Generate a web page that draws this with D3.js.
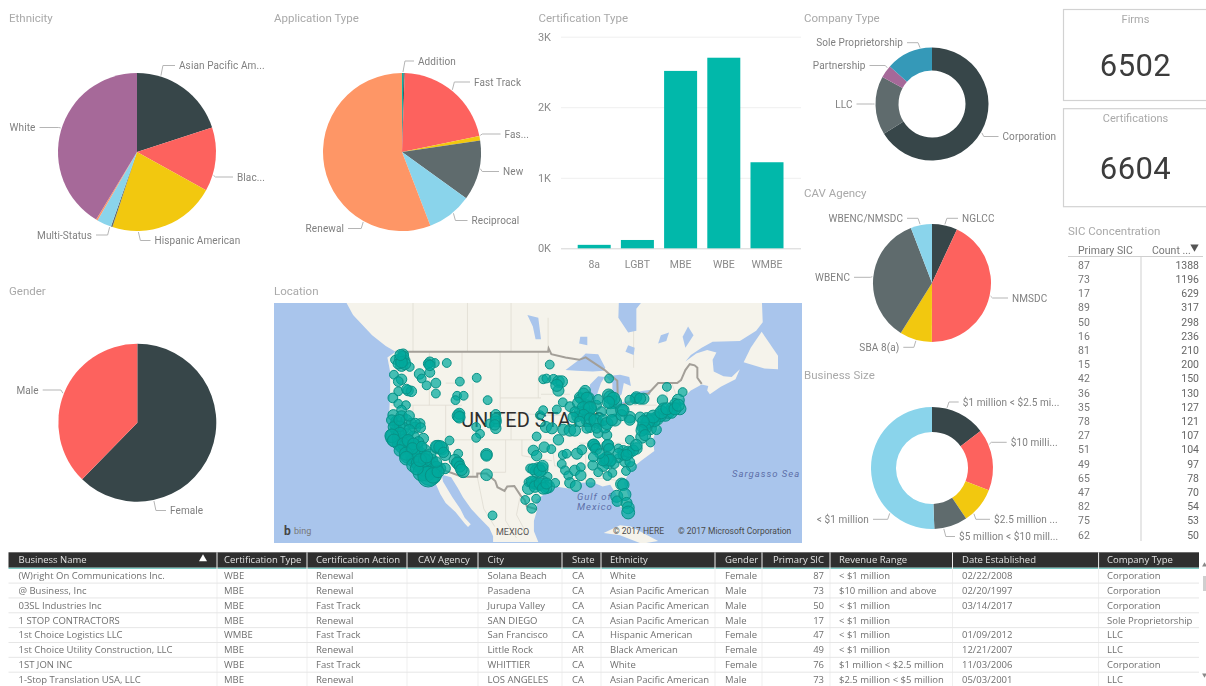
<!DOCTYPE html>
<html>
<head>
<meta charset="utf-8">
<script src="https://d3js.org/d3.v7.min.js"></script>
<style>
body { margin: 0; background: #fff; overflow: hidden; }
svg { filter: blur(0.35px); }
text { font-family: Roboto, sans-serif; }
</style>
</head>
<body>
<div id="dash"></div>
<script>
// ---- data ----
var ethnicityNames = ["Asian Pacific American", "Black American", "Hispanic American", "Native American", "Multi-Status", "Other", "White"];
var ethnicityValues = [1300, 850, 1430, 20, 195, 20, 2690];

var applicationNames = ["Addition", "Expedited", "Fast Track", "Fast Track Addition", "New", "Reciprocal", "Renewal"];
var applicationValues = [20, 16, 1400, 60, 811, 609, 3688];

var certNames = ["8a", "LGBT", "MBE", "WBE", "WMBE"];
var certValues = [49, 118, 2515, 2702, 1220];
var certTicks = [0, 1000, 2000, 3000];

var companyNames = ["Corporation", "LLC", "Partnership", "Sole Proprietorship"];
var companyValues = [4304, 1089, 237, 872];

var agencyNames = ["NGLCC", "NMSDC", "SBA 8(a)", "WBENC", "WBENC/NMSDC"];
var agencyValues = [118, 733, 150, 600, 99];

var sizeNames = ["$1 million < $2.5 million", "$10 million and above", "$2.5 million < $5 million", "$5 million < $10 million", "< $1 million"];
var sizeValues = [950, 1062, 625, 574, 3291];

var genderNames = ["Female", "Male"];
var genderValues = [4051, 2451];

var firmsCount = 6502;
var certificationsCount = 6604;

var sicCodes = [87, 73, 17, 89, 50, 16, 81, 15, 42, 36, 35, 78, 27, 51, 49, 65, 47, 82, 75, 62];
var sicCounts = [1388, 1196, 629, 317, 298, 236, 210, 200, 150, 130, 127, 121, 107, 104, 97, 78, 70, 54, 53, 50];

var tableColumns = ["Business Name", "Certification Type", "Certification Action", "CAV Agency", "City", "State", "Ethnicity", "Gender", "Primary SIC", "Revenue Range", "Date Established", "Company Type"];
var tableRows = [
  ["(W)right On Communications Inc.", "WBE", "Renewal", "", "Solana Beach", "CA", "White", "Female", "87", "< $1 million", "02/22/2008", "Corporation"],
  ["@ Business, Inc", "MBE", "Renewal", "", "Pasadena", "CA", "Asian Pacific American", "Male", "73", "$10 million and above", "02/20/1997", "Corporation"],
  ["03SL Industries Inc", "MBE", "Fast Track", "", "Jurupa Valley", "CA", "Asian Pacific American", "Male", "50", "< $1 million", "03/14/2017", "Corporation"],
  ["1 STOP CONTRACTORS", "MBE", "Renewal", "", "SAN DIEGO", "CA", "Asian Pacific American", "Male", "17", "< $1 million", "", "Sole Proprietorship"],
  ["1st Choice Logistics LLC", "WMBE", "Fast Track", "", "San Francisco", "CA", "Hispanic American", "Female", "47", "< $1 million", "01/09/2012", "LLC"],
  ["1st Choice Utility Construction, LLC", "MBE", "Renewal", "", "Little Rock", "AR", "Black American", "Female", "49", "< $1 million", "12/21/2007", "LLC"],
  ["1ST JON INC", "WBE", "Fast Track", "", "WHITTIER", "CA", "White", "Female", "76", "$1 million < $2.5 million", "11/03/2006", "Corporation"],
  ["1-Stop Translation USA, LLC", "MBE", "Renewal", "", "LOS ANGELES", "CA", "Asian Pacific American", "Male", "73", "$2.5 million < $5 million", "05/03/2001", "LLC"]
];

// firm locations: lon, lat, firms
var locations = [
  [-121.8,48.7,3],[-122.4,48.1,4],[-121.5,47.9,3],[-122.1,47.3,6],[-120.6,47.1,1],[-123.3,48,1],[-122.7,47.5,3],[-121.8,48.4,4],
  [-116.9,47.7,3],[-116,47.6,1],[-113.8,47.6,1],[-117.2,47.5,2],[-123.5,46.1,1],[-118.8,46.2,3],[-122.1,45.5,3],[-122.7,45.2,2],
  [-116.9,46.4,2],[-118.4,45.6,1],[-117.5,44.7,1],[-115.8,45,2],[-115.8,43.6,1],[-111.4,45.2,1],[-108.3,45.7,1],[-120.9,44,3],
  [-120.3,43.9,3],[-122.7,43.9,1],[-123.7,43,2],[-111.9,43.3,1],[-110.7,43.3,1],[-112.2,42.7,1],[-106.3,42.7,1],
  [-122.7,42.2,1],[-121.3,42,1],[-122.1,41.3,2],[-123.6,40.6,4],[-123,39.7,5],[-122.1,40.4,5],[-121.2,39.9,4],[-120.3,39.4,3],
  [-118.7,39.4,2],[-119.6,38.8,4],[-121.8,38.7,6],[-123,38.4,6],[-123.3,37.4,30],[-122.4,37.2,16],[-121.2,37.7,8],[-119.9,37.4,6],
  [-118.1,37.2,3],[-122.7,36.4,6],[-121.5,35.9,6],[-120.6,35.4,6],[-119.3,35.9,5],[-118.7,34.9,8],[-120.2,34.4,6],[-120.9,34.7,20],
  [-119.3,33.9,8],[-118.1,34.2,6],[-117.2,33.4,10],[-118.7,33.1,12],[-117.8,32.6,20],[-116.6,32.8,10],[-116.9,31.8,60],[-116,32.1,6],
  [-115,32.6,4],[-114.1,32.6,3],[-117.5,32.1,30],[-116.6,33.9,6],[-123.3,39.2,3],[-122.4,39,3],[-121.5,36.9,8],[-122.1,35.9,5],
  [-120.6,36.6,6],[-119.6,35.2,6],[-119.9,33.9,10],[-119,34.7,8],[-117.8,35.4,5],[-116.9,34.7,6],[-118.1,32.6,14],[-117.2,32.8,18],
  [-116.3,33.3,6],[-115.7,32.8,5],
  [-123.9,39.9,3],[-123.6,38.9,3],[-122.5,39.9,4],[-120.7,40.5,3],[-119.6,39.4,3],[-118.6,38.8,2],[-120.7,38.4,5],[-122.4,37.9,8],
  [-123.9,37.6,10],[-123.5,36.9,8],[-121.8,36.4,6],[-120.9,36.9,6],[-119,36.7,3],[-119.9,36.4,5],[-122.4,35.4,5],[-121.3,34.9,8],
  [-120.1,35.7,5],[-118.4,36,3],[-121.2,34.2,10],[-119.9,33.1,10],[-119,33.4,12],[-117.8,33.9,8],[-118.4,32,24],[-117.2,31.3,40],
  [-116.3,31.5,16],[-115.4,32.1,6],[-119.3,32.6,8],[-118.7,33.9,8],[-117.5,34.4,6],[-115.7,33.6,3],
  [-115.4,35.9,10],[-114.7,35.7,8],[-114.1,34.7,4],[-113.3,36.9,1],[-111.7,34.9,1],[-112.3,33.9,5],[-111.7,33.4,6],[-110.8,32.1,6],
  [-106.5,34.8,5],[-106.5,31.6,5],[-115.7,36,6],[-111.7,40.5,6],[-111.5,40.8,4],[-108.4,38.9,1],[-107.7,37.9,1],[-108.4,37.3,1],
  [-104.8,40.7,2],[-104.8,39.7,4],[-104.8,38.7,3],[-105.9,39.4,1],
  [-97.3,37.5,1],[-97.9,35.4,3],[-97.3,34.6,3],[-95.9,35.9,3],[-94.6,35.6,1],[-98.5,32.6,1],[-97,32.5,8],[-96.4,32.5,8],[-97.4,32.2,6],
  [-95.3,31.3,1],[-98.8,30.4,1],[-96.7,29.9,3],[-97.9,30.3,6],[-98.8,29.4,6],[-97.3,30.2,6],[-96.1,30.5,3],[-95.2,29.7,8],[-95.6,29.5,6],
  [-93.9,30.3,1],[-99.4,27.5,1],[-97.4,27.7,1],[-98.2,26.1,2],[-105.4,24.9,1],
  [-95.6,38.9,4],[-94.5,38.7,4],[-92.4,38.5,4],[-91.2,38.4,5],[-90.3,38.4,5],[-93.3,37,3],[-92.5,34.7,1],[-91.8,34.9,1],[-89.9,34.9,4],
  [-89,35.5,2],[-92.7,33.3,1],[-92.1,32.3,1],[-91.5,31.5,1],[-90.3,32.3,3],[-89.2,32.8,1],[-89.2,31.5,3],[-91.2,30.3,3],[-90.1,29.8,4],[-87.4,30.3,1],
  [-94.9,47.4,1],[-96.1,45.5,1],[-95.5,45.6,1],[-94.2,45.5,2],[-93.3,45.2,5],[-92.7,45.2,5],[-93.3,44,4],[-93.6,44.7,6],
  [-96.7,40.6,1],[-96.1,41.3,1],[-93.6,41.4,1],[-92.5,42.4,1],[-91.2,41.8,2],[-89.4,43.1,3],[-88.4,44,3],[-89.2,42.9,3],[-87.8,43,5],
  [-88.1,41.8,10],[-87.7,41.5,10],[-89.4,41.1,3],[-89.9,40.4,3],[-87.8,40.8,5],[-86.3,42,2],[-86,42.8,2],[-88.1,39.9,5],[-86.3,39.7,8],
  [-85.4,41.1,2],[-87.5,38.8,2],[-86,38,2],[-84.4,37.7,2],[-84.8,38.9,6],[-82.9,39.9,6],[-84,45.6,1],[-84.1,43.4,6],[-83.7,42.4,8],
  [-82.9,42.4,8],[-83.5,41.1,4],[-81.7,41.3,6],[-80.2,40.3,5],[-79.2,42.9,3],[-77.7,42.9,4],[-73.4,44.5,1],[-70.5,43.8,1],[-74.2,42.7,3],
  [-71.3,42.7,6],[-71,41.5,6],[-72.5,41.5,6],[-73.7,40.7,10],[-75.3,40.1,10],[-76.2,39.9,8],[-77.1,40.1,6],[-77.7,38.9,8],[-76.5,38.7,8],
  [-75.3,38.5,2],[-78,37.4,6],[-76.4,36.6,1],[-80.2,37,1],[-79,35.7,5],[-80.2,35,3],[-81.4,35.3,4],[-82.3,35.7,1],[-81.1,33.7,3],
  [-79.9,32.9,2],[-80.9,32.2,1],[-83.4,31.9,1],[-84.6,34,10],[-84.2,33.7,12],[-85.1,33,4],[-86.9,36.2,5],[-86.6,36,4],[-84.3,36.1,5],
  [-87,33.1,2],[-86,32,1],[-84.3,31.4,1],[-82.3,34.2,1],[-83,33.3,1],
  [-81.7,30.1,6],[-81.4,30,5],[-82.6,28.1,6],[-82.5,27.3,3],[-81.1,28.4,6],[-80.8,27,4],[-80.5,26.2,6],[-80.5,25.4,8],
  [-74.6,40.6,8],[-75.7,39.8,6],[-73.1,41,6],[-71.9,42.2,3],[-77.1,39.4,6],[-72.5,40.9,3],[-74,41.5,5],[-78.3,40.3,3],
  [-88.7,43.6,4],[-88.1,43,5],[-89.7,42.3,4],[-88.7,41.6,8],[-87.5,41.6,8],[-88.7,40.6,5],[-87.5,40.1,5],[-86.6,39.9,6],[-90.3,41.1,2],
  [-90.6,40.3,3],[-89.4,39.7,3],[-85.1,39.9,4],[-84.4,39.4,6],[-83.5,39.9,4],[-83.8,43.1,8],[-83.2,42.9,8],[-84.1,42.4,6],[-86.3,38.7,2],[-88.1,38.7,2],
  [-86.8,36.3,4],[-86.4,35.6,4],[-84.2,36.2,5],[-84,35.6,4],[-81.4,34.7,3],[-80.5,35.2,4],[-79.6,35.4,4],[-79,36.2,5],[-84.4,34.2,8],[-83.8,33.9,6],
  [-85.1,33.9,5],[-85.7,34.9,2],[-86.9,34.4,2],[-80.2,33.6,2],[-82.3,34.9,3],[-80.8,34.7,4],
  [-76.8,39.7,8],[-77.4,38.7,6],[-75.9,40.4,8],[-74.4,41,8],[-73.4,41.5,6],[-71.9,41.5,6],[-71.3,42,6],[-77.7,39.7,5],[-78,38.4,5],[-77.4,37.7,4],
  [-79,43.1,4],[-78.3,42.9,4],[-80.2,42.7,2],[-81.7,40.6,4],[-80.2,39.9,3],[-81.4,41.3,5],
  [-98.2,30.5,4],[-97.6,29.7,5],[-96.7,30.2,5],[-96.1,29.4,5],[-95.5,30.2,4],[-97.9,32.5,4],[-96.7,32.2,6],[-96.2,33,4],
  [-121.5,47.5,5],[-122.1,47.7,5],[-122.3,48.6,4],[-116.9,47.3,3],[-121.2,44.2,2],
  [-111.9,33.5,5],[-111.4,32.9,4],[-111.1,32.4,5],[-115,35.9,8],[-114.4,35.1,3],[-106.5,34.6,4],[-104.8,40.1,3],[-105,39.2,3],[-111.5,40.3,5]
];

// rough basemap outlines, lon/lat
var landCoast = [[-133,55.5],[-131,53.3],[-127.5,51],[-125,49.7],[-123.2,49],[-124.7,48.3],[-124.2,46.5],[-124.2,43.5],[-124.4,40.4],[-122.6,37.8],[-121.8,36.4],[-120.6,34.6],[-118.5,34],[-117.2,32.6],[-116,30.5],[-115,28.5],[-114,27],[-112.2,25.5],[-110.5,23.5],[-109.9,22.9],[-109.4,23.4],[-110.5,24.5],[-111.3,26],[-112.8,28],[-114.5,30.5],[-114.7,31.6],[-113,31.2],[-111.8,29.5],[-110.8,27.9],[-109.3,26],[-107.8,24.5],[-106,22.8],[-105.3,21.3],[-105.3,20.3],[-97,20.3],[-97.8,22.2],[-97.8,24],[-97.2,25.9],[-97.4,27.5],[-95,29],[-93.8,29.7],[-91.5,29.4],[-89.4,29],[-89.4,30.3],[-87,30.4],[-85.2,29.7],[-83.8,30],[-82.7,28.5],[-82,26.5],[-81,25.2],[-80.4,25.3],[-80,26.8],[-81.3,30.3],[-80,32.5],[-78,33.9],[-75.7,35.3],[-76,37],[-75.5,38],[-74.2,39.7],[-74,40.6],[-72,41],[-70,41.6],[-70.8,42.8],[-69,44],[-67,44.8],[-65.8,44.6],[-66,44],[-65.5,43.5],[-63.5,44.5],[-60.8,45.5],[-60,46.8],[-61.5,45.8],[-63,45.9],[-64.8,46.5],[-65,48],[-64.3,48.9],[-66,49.2],[-68,48.8],[-70,47.8],[-69,48.6],[-67,49.5],[-65,50.2],[-60,50.3],[-57,51.5],[-55.8,52.5],[-56,55.5]];
var newfoundland = [[-59.3,47.7],[-58,49.5],[-56,51.4],[-53,48.5],[-53,46.8],[-55.5,46.9]];
var cuba = [[-85,21.9],[-82,23.2],[-80,23],[-75,20.5],[-78,20],[-82,21.5]];
var lakes = [
  [[-92,46.7],[-89.5,48],[-88.3,48.8],[-86,48.7],[-84.7,47],[-85,46.6],[-87,46.5],[-90,46.6]],
  [[-87.8,41.7],[-86.8,41.8],[-86.2,43.5],[-85.5,45],[-84.8,45.8],[-86,45.9],[-87.5,44.8],[-87.9,43]],
  [[-84.7,45.9],[-83.4,45],[-83.4,43.8],[-82.5,43],[-81.7,43.5],[-81.3,45],[-80,44.6],[-80.3,45.8],[-82,46.1]],
  [[-83.4,41.7],[-81.5,41.6],[-79,42.8],[-80.5,42.7],[-83,42.1]],
  [[-79.7,43.3],[-76.5,43.4],[-76.3,44.1],[-78,43.95],[-79.4,43.7]],
  [[-97.5,50.5],[-96.5,50.5],[-97,53],[-99,53.3],[-98,52]],
  [[-84,55.5],[-82.2,55],[-82.3,53],[-80.5,51.3],[-79,51.5],[-79,54],[-77,55.5]],
  [[-89.5,50],[-88,49.8],[-88,50.8],[-89.3,50.8]],
  [[-81,49],[-79.5,48.6],[-79.3,49.5],[-80.5,49.8]],
  [[-75,50],[-73.5,50.3],[-73,51.3],[-74.5,51]],
  [[-70,49.5],[-68.5,51],[-69.5,52],[-70.5,50.8]]
];
var countryBorders = [
  [[-123.2,49],[-95.2,49],[-95.1,49.4],[-94.6,48.7],[-92,48.3],[-89.5,48],[-88.3,48.3],[-84.8,46.7],[-84.3,46.4],[-83.5,45.9],[-82.5,45.3],[-82.4,43],[-83.1,42.2],[-82.7,41.7],[-79,42.8],[-79.1,43.4],[-76.8,43.6],[-75,45],[-71.5,45],[-70.8,45.4],[-70.3,46.2],[-70,46.7],[-69.2,47.45],[-68.3,47.3],[-67.8,47],[-67.8,45.7],[-67,44.9]],
  [[-117.1,32.5],[-114.7,32.7],[-114.8,32.5],[-111,31.3],[-108.2,31.3],[-108.2,31.8],[-106.5,31.8],[-104.9,30.6],[-104.5,29.6],[-103.2,29],[-102.7,29.7],[-101.4,29.8],[-100.3,28.3],[-99.5,27.5],[-99.1,26.4],[-97.2,25.9]]
];
var stateLines = [
  [[-117,49],[-117,42]],[[-111,49],[-111,45],[-114,45]],[[-104,49],[-104,41]],[[-97,49],[-97,43]],[[-124,42],[-111,42]],[[-120,42],[-120,39],[-114.6,35]],
  [[-114,42],[-114,37]],[[-109,45],[-109,31.3]],[[-114,37],[-94.6,37]],[[-102,41],[-102,37]],[[-104,43],[-96.5,43]],[[-104,41],[-95.5,40.6]],[[-103,37],[-103,32],[-106.5,32]],
  [[-100,37],[-100,34.6],[-94.5,33.8]],[[-94.5,36.5],[-94,33]],[[-91.5,40.6],[-95.5,40.6]],[[-91.2,43.5],[-96.5,43.5]],[[-88,42.5],[-90.7,42.5]],[[-87.5,41.7],[-87.5,39],[-88,37.8]],
  [[-84.8,41.7],[-84.8,39.1]],[[-80.5,42],[-80.5,40.6]],[[-80.5,39.7],[-75.7,39.7]],[[-79.7,42],[-75.3,42]],[[-90,35],[-81,35]],[[-89.5,36.5],[-75.9,36.5]],
  [[-88.3,35],[-88.3,30.3]],[[-85.5,35],[-85,31],[-87.5,31]],[[-91.5,33],[-94,33]],[[-91,33],[-91.6,31],[-89.7,31]],[[-85,31],[-81.8,30.6]],[[-73.4,45],[-73.4,41]],[[-72.5,45],[-71.5,43],[-71,42.7]],
  [[-120,55],[-120,49]],[[-110,55],[-110,49]],[[-102,55],[-102,49]],[[-95.2,53],[-95.2,49.4]],[[-79.5,52],[-79.5,47]],
  [[-108.2,31.3],[-107,26],[-105,23]],[[-103,29],[-103,24],[-101,21]],[[-100.3,28.3],[-101,25],[-99,21.5]]
];

// ---- palette ----
var teal = "#01B8AA", dark = "#374649", red = "#FD625E", yellow = "#F2C80F",
    gray = "#5F6B6D", sky = "#8AD4EB", orange = "#FE9666", purple = "#A66999", blue = "#3599B8";

var svg = d3.select("#dash").append("svg")
    .attr("width", 1206)
    .attr("height", 686);

function title(txt, x, y) {
  svg.append("text").attr("x", x).attr("y", y).attr("dy", "0.35em")
    .attr("font-size", 11.5).attr("fill", "#a9a9a9").text(txt);
}

// pie or donut with power bi style callouts
function drawPie(opt) {
  var g = svg.append("g").attr("transform", "translate(" + opt.cx + "," + opt.cy + ")");
  var pie = d3.pie().sort(null).value(function(d) { return d; });
  var arc = d3.arc().innerRadius(opt.inner || 0).outerRadius(opt.r);

  g.selectAll("path.slice")
    .data(pie(opt.values))
    .enter()
    .append("path")
    .attr("class", "slice")
    .attr("d", arc)
    .attr("fill", function(d, i) { return opt.colors[i]; });

  opt.callouts.forEach(function(c) {
    var a = c.angle * Math.PI / 180;
    var sx = opt.cx + Math.sin(a) * (opt.r + 1);
    var sy = opt.cy - Math.cos(a) * (opt.r + 1);
    var side = c.anchor == "end" ? -1 : 1;
    var pts = [[sx, sy], [sx + side * 2, c.y], [c.x - side * 4, c.y]];
    svg.append("path")
      .attr("d", d3.line()(pts))
      .attr("fill", "none")
      .attr("stroke", "#b5b5b5")
      .attr("stroke-width", 1);
    svg.append("text")
      .attr("x", c.x).attr("y", c.y).attr("dy", "0.35em")
      .attr("text-anchor", c.anchor || "start")
      .attr("font-size", 10)
      .attr("letter-spacing", 0.1)
      .attr("fill", "#808080")
      .text(c.label);
  });
}

title("Ethnicity", 9, 18);
drawPie({
  cx: 137, cy: 152, r: 79,
  values: ethnicityValues,
  colors: [dark, red, yellow, gray, sky, orange, purple],
  callouts: [
    {label: "Asian Pacific Am...", angle: 17.4, x: 179, y: 65.5},
    {label: "Blac...", angle: 107, x: 237, y: 177},
    {label: "Hispanic American", angle: 179, x: 154.5, y: 240.5},
    {label: "Multi-Status", angle: 200, x: 92, y: 235, anchor: "end"},
    {label: "White", angle: 287.5, x: 35.5, y: 127.5, anchor: "end"}
  ]
});

title("Application Type", 274, 18);
drawPie({
  cx: 402, cy: 152, r: 79,
  values: applicationValues,
  colors: [teal, dark, red, yellow, gray, sky, orange],
  callouts: [
    {label: "Addition", angle: 0.7, x: 418, y: 61},
    {label: "Fast Track", angle: 39, x: 474, y: 82},
    {label: "Fas...", angle: 78, x: 504.5, y: 134},
    {label: "New", angle: 102, x: 503, y: 171.5},
    {label: "Reciprocal", angle: 140, x: 471.5, y: 220.5},
    {label: "Renewal", angle: 209, x: 344, y: 228.5, anchor: "end"}
  ]
});

title("Gender", 9, 291);
drawPie({
  cx: 137.3, cy: 422.7, r: 79,
  values: genderValues,
  colors: [dark, red],
  callouts: [
    {label: "Female", angle: 168, x: 170, y: 510.5},
    {label: "Male", angle: 291.6, x: 38.7, y: 390, anchor: "end"}
  ]
});

title("Company Type", 804, 18);
drawPie({
  cx: 932, cy: 104, r: 56.5, inner: 33.5,
  values: companyValues,
  colors: [dark, gray, purple, blue],
  callouts: [
    {label: "Corporation", angle: 120, x: 1002.5, y: 136.5},
    {label: "LLC", angle: 270, x: 852.5, y: 104, anchor: "end"},
    {label: "Partnership", angle: 309, x: 865.5, y: 65.5, anchor: "end"},
    {label: "Sole Proprietorship", angle: 348, x: 903, y: 42.7, anchor: "end"}
  ]
});

title("CAV Agency", 804, 193);
drawPie({
  cx: 932, cy: 283, r: 59,
  values: agencyValues,
  colors: [dark, red, yellow, gray, sky],
  callouts: [
    {label: "NGLCC", angle: 12.4, x: 962, y: 218.3},
    {label: "NMSDC", angle: 102.6, x: 1012, y: 298},
    {label: "SBA 8(a)", angle: 195.6, x: 899.3, y: 347.3, anchor: "end"},
    {label: "WBENC", angle: 276, x: 850, y: 277.3, anchor: "end"},
    {label: "WBENC/NMSDC", angle: 348.5, x: 903, y: 218.3, anchor: "end"}
  ]
});

title("Business Size", 804, 375);
drawPie({
  cx: 932, cy: 468, r: 61, inner: 36,
  values: sizeValues,
  colors: [dark, red, yellow, gray, sky],
  callouts: [
    {label: "$1 million < $2.5 mi...", angle: 14, x: 962.7, y: 402},
    {label: "$10 milli...", angle: 67.5, x: 1010.7, y: 442.3},
    {label: "$2.5 million ...", angle: 137.5, x: 994, y: 519.3},
    {label: "$5 million < $10 mill...", angle: 169, x: 959, y: 536.5},
    {label: "< $1 million", angle: 223, x: 869, y: 519.3, anchor: "end"}
  ]
});

// ---- certification bars ----
title("Certification Type", 538.5, 18);

var x = d3.scaleBand()
  .domain(certNames)
  .range([572.6, 788.6])
  .paddingInner(0.236)
  .paddingOuter(0.118);

var y = d3.scaleLinear()
  .domain([0, 3000])
  .range([248.3, 36.7]);

var yAxis = svg.append("g")
  .attr("transform", "translate(561,0)")
  .call(d3.axisLeft(y)
    .tickValues(certTicks)
    .tickSize(-240)
    .tickFormat(function(d) { return (d / 1000) + "K"; }));
yAxis.select(".domain").remove();
yAxis.selectAll("line").attr("stroke", function(d) { return d == 0 ? "#d4d4d4" : "#efefef"; });
yAxis.selectAll("text").attr("x", -10).attr("font-size", 11).attr("fill", "#8a8a8a").style("font-family", "Roboto, sans-serif");

var xAxis = svg.append("g")
  .attr("transform", "translate(0,248.3)")
  .call(d3.axisBottom(x).tickSize(0).tickPadding(12));
xAxis.select(".domain").remove();
xAxis.selectAll("text").attr("font-size", 10.5).attr("fill", "#8a8a8a").style("font-family", "Roboto, sans-serif");

svg.append("g").selectAll("rect")
  .data(certValues)
  .enter()
  .append("rect")
  .attr("x", function(d, i) { return x(certNames[i]); })
  .attr("y", function(d) { return y(d); })
  .attr("width", x.bandwidth())
  .attr("height", function(d) { return y(0) - y(d); })
  .attr("fill", teal);

// ---- map ----
title("Location", 274, 291);

var projection = d3.geoProjection(function(lam, phi) {
    return [lam * 1.02, Math.log(Math.tan(Math.PI / 4 + phi / 2))];
  })
  .scale(306)
  .translate([1066.7, 652.8]);

function geoLine(coords) {
  return d3.line()(coords.map(projection));
}

svg.append("clipPath").attr("id", "mapClip")
  .append("rect").attr("x", 274).attr("y", 303).attr("width", 528).attr("height", 240);

var map = svg.append("g").attr("clip-path", "url(#mapClip)");
var water = "#A9C5EC", land = "#F5F3EB";

map.append("rect").attr("x", 274).attr("y", 303).attr("width", 528).attr("height", 240).attr("fill", water);
[landCoast, newfoundland, cuba].forEach(function(c) {
  map.append("path").attr("d", geoLine(c) + "Z").attr("fill", land);
});
map.selectAll("path.state")
  .data(stateLines)
  .enter()
  .append("path")
  .attr("class", "state")
  .attr("d", geoLine)
  .attr("fill", "none")
  .attr("stroke", "#dfdcd2")
  .attr("stroke-width", 0.8);
map.selectAll("path.lake")
  .data(lakes)
  .enter()
  .append("path")
  .attr("class", "lake")
  .attr("d", function(d) { return geoLine(d) + "Z"; })
  .attr("fill", water);
map.selectAll("path.border")
  .data(countryBorders)
  .enter()
  .append("path")
  .attr("class", "border")
  .attr("d", geoLine)
  .attr("fill", "none")
  .attr("stroke", "#a39f98")
  .attr("stroke-width", 2);

map.append("text").attr("x", 461).attr("y", 427)
  .attr("font-size", 20).attr("fill", "#2e2e2e").text("UNITED STATES");

function mapLabel(txt, px, py, size, fill, extra) {
  var t = map.append("text").attr("x", px).attr("y", py)
    .attr("font-size", size).attr("fill", fill).text(txt);
  if (extra) t.attr("font-style", "italic").attr("letter-spacing", 1);
  return t;
}
mapLabel("Gulf of", 577, 500, 9.5, "#5d6fa8", true);
mapLabel("Mexico", 577, 510, 9.5, "#5d6fa8", true);
mapLabel("Sargasso Sea", 732, 477, 9.5, "#5d6fa8", true);
mapLabel("MEXICO", 496, 535, 9, "#555");
mapLabel("\u00A9 2017 HERE", 613, 534, 8.5, "#4a4a4a");
mapLabel("\u00A9 2017 Microsoft Corporation", 678, 534, 8.5, "#4a4a4a");
mapLabel("b", 284, 535, 12, "#444").attr("font-weight", 700);
mapLabel("bing", 294, 534, 9, "#777");

var rScale = d3.scaleSqrt().domain([1, 60]).range([4.4, 12]);

map.append("g").selectAll("circle")
  .data(locations)
  .enter()
  .append("circle")
  .attr("cx", function(d) { return projection(d)[0]; })
  .attr("cy", function(d) { return projection(d)[1]; })
  .attr("r", function(d) { return rScale(d[2]); })
  .attr("fill", "#01a99c")
  .attr("fill-opacity", 0.72)
  .attr("stroke", "#089186")
  .attr("stroke-width", 1);

// ---- cards ----
function card(label, value, top, h) {
  svg.append("rect").attr("x", 1063.5).attr("y", top).attr("width", 150).attr("height", h)
    .attr("fill", "#fff").attr("stroke", "#d2d2d2").attr("stroke-width", 1.2);
  svg.append("text").attr("x", 1135.5).attr("y", top + 9.5).attr("dy", "0.35em")
    .attr("text-anchor", "middle").attr("font-size", 11).attr("fill", "#a9a9a9").text(label);
  svg.append("text").attr("x", 1135.5).attr("y", top + h * 0.61).attr("dy", "0.35em")
    .attr("text-anchor", "middle").attr("font-size", 31).attr("letter-spacing", 0.4)
    .attr("fill", "#3c3c3c").text(value);
}
card("Firms", firmsCount, 9.5, 91);
card("Certifications", certificationsCount, 108.7, 98);

// ---- SIC table ----
title("SIC Concentration", 1068, 231);
var sicY = d3.scaleLinear().domain([0, sicCodes.length - 1]).range([265, 535]);

svg.append("text").attr("x", 1078).attr("y", 250).attr("dy", "0.35em")
  .attr("font-size", 10.5).attr("fill", "#777").text("Primary SIC");
svg.append("text").attr("x", 1152).attr("y", 250).attr("dy", "0.35em")
  .attr("font-size", 10.5).attr("fill", "#777").text("Count ...");
svg.append("path").attr("d", d3.symbol(d3.symbolTriangle, 30)()).attr("fill", "#555")
  .attr("transform", "translate(1194.5,247) rotate(180)");
svg.append("line").attr("x1", 1068).attr("x2", 1203).attr("y1", 256.5).attr("y2", 256.5).attr("stroke", "#cfcfcf");
svg.append("line").attr("x1", 1141).attr("x2", 1141).attr("y1", 257).attr("y2", 541).attr("stroke", "#cfcfcf");

svg.append("g").selectAll("text")
  .data(sicCodes)
  .enter()
  .append("text")
  .attr("x", 1078)
  .attr("y", function(d, i) { return sicY(i); })
  .attr("dy", "0.35em").attr("font-size", 10.5).attr("fill", "#777")
  .text(function(d) { return d; });
svg.append("g").selectAll("text")
  .data(sicCounts)
  .enter()
  .append("text")
  .attr("x", 1199)
  .attr("y", function(d, i) { return sicY(i); })
  .attr("dy", "0.35em").attr("text-anchor", "end").attr("font-size", 10.5).attr("fill", "#666")
  .text(function(d) { return d; });

// ---- detail table ----
var colEdges = [8.5, 217, 307, 407, 478, 562, 601, 715, 762, 830, 952.5, 1098.6, 1199];
var colText = [18.5, 224, 316, 418, 487.5, 572, 610, 725, 824, 839, 962, 1107];
var tableFont = "'Open Sans', sans-serif";
// last row squeezed up a little so its text stays inside the window
var rowY = d3.scaleLinear().domain([0, tableRows.length - 1]).range([575.7, 679.6]);

var tbl = svg.append("g");
tbl.append("rect").attr("x", colEdges[0]).attr("y", 552.3).attr("width", colEdges[12] - colEdges[0]).attr("height", 15.4).attr("fill", "#2f2f2f");
tbl.append("rect").attr("x", colEdges[0]).attr("y", 567.7).attr("width", colEdges[12] - colEdges[0]).attr("height", 1.2).attr("fill", "#6fc7c0");

tbl.selectAll("line.col")
  .data(colEdges.slice(1, 12))
  .enter()
  .append("line")
  .attr("class", "col")
  .attr("x1", function(d) { return d; })
  .attr("x2", function(d) { return d; })
  .attr("y1", 552.3).attr("y2", 686)
  .attr("stroke", "#efefef");

tbl.selectAll("line.row")
  .data(tableRows)
  .enter()
  .append("line")
  .attr("class", "row")
  .attr("x1", colEdges[0]).attr("x2", colEdges[12])
  .attr("y1", function(d, i) { return rowY(i) + 7.4; })
  .attr("y2", function(d, i) { return rowY(i) + 7.4; })
  .attr("stroke", "#e6e6e6");

tbl.selectAll("text.head")
  .data(tableColumns)
  .enter()
  .append("text")
  .attr("class", "head")
  .attr("x", function(d, i) { return colText[i]; })
  .attr("y", 560).attr("dy", "0.35em")
  .attr("text-anchor", function(d, i) { return i == 8 ? "end" : "start"; })
  .attr("font-size", 9.5)
  .attr("fill", "#e2e2e2")
  .style("font-family", tableFont)
  .text(function(d) { return d; });

tbl.append("path").attr("d", d3.symbol(d3.symbolTriangle, 28)()).attr("fill", "#fff")
  .attr("transform", "translate(203,559)");

tableRows.forEach(function(row, r) {
  tbl.selectAll("text.r" + r)
    .data(row)
    .enter()
    .append("text")
    .attr("class", "r" + r)
    .attr("x", function(d, i) { return colText[i]; })
    .attr("y", rowY(r)).attr("dy", "0.35em")
    .attr("text-anchor", function(d, i) { return i == 8 ? "end" : "start"; })
    .attr("font-size", 9.5)
    .attr("fill", "#707070")
    .style("font-family", tableFont)
    .text(function(d) { return d; });
});

// scrollbar
tbl.append("rect").attr("x", 1203).attr("y", 576).attr("width", 3).attr("height", 15).attr("fill", "#cfcfcf");
tbl.append("path").attr("d", d3.symbol(d3.symbolTriangle, 10)()).attr("fill", "#888").attr("transform", "translate(1204.5,565)");
tbl.append("path").attr("d", d3.symbol(d3.symbolTriangle, 10)()).attr("fill", "#888").attr("transform", "translate(1204.5,675) rotate(180)");
</script>
</body>
</html>
